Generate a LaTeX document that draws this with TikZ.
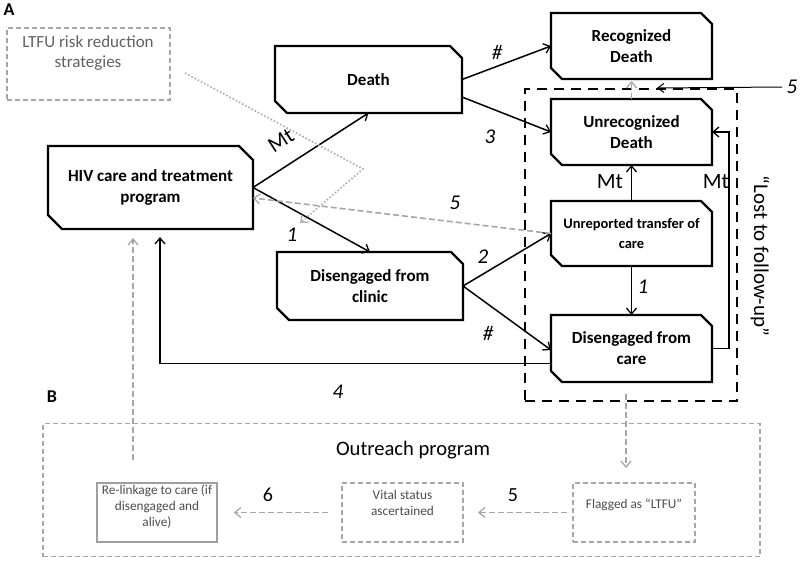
\documentclass[tikz,border=0pt]{standalone}
\usepackage{fontspec}
\setmainfont{Carlito}
\usetikzlibrary{arrows.meta,calc}
\tikzset{
  bx/.style={draw=none, rectangle, inner sep=0pt, outer sep=0pt, align=center},
  boxline/.style={line width=2.2pt, line join=miter},
  bfont/.style={font=\fontsize{17}{21}\selectfont\bfseries},
  sfont/.style={font=\fontsize{14.5}{20}\selectfont\bfseries},
  arr/.style={line width=1.5pt, -{Straight Barb[length=6pt,width=10pt,line width=1.3pt]}},
  garr/.style={line width=1.6pt, draw=gray!70, dash pattern=on 6pt off 3pt, -{Straight Barb[length=6pt,width=10pt,line width=1.3pt]}},
  gdot/.style={line width=1.6pt, draw=gray!65, dash pattern=on 1.6pt off 2pt},
  gbox/.style={draw=gray!70, line width=1.6pt, dash pattern=on 5pt off 3pt, rectangle, inner sep=0pt, outer sep=0pt, align=center},
  lab/.style={font=\fontsize{21}{24}\selectfont\itshape},
  mt/.style={font=\fontsize{22}{24}\selectfont},
  btxt/.style={text=black!70, font=\fontsize{13.3}{16}\selectfont}
}
\newcommand\chbox[2]{%
  \draw[boxline] (#1.north west) -- ([xshift=-#2]#1.north east) -- ([yshift=-#2]#1.north east)
   -- (#1.south east) -- ([xshift=#2]#1.south west) -- ([yshift=#2]#1.south west) -- cycle;}
\begin{document}
\begin{tikzpicture}[x=1pt,y=-1pt]
\useasboundingbox (0,0) rectangle (800,560);
% panel labels
\node[font=\fontsize{18}{20}\selectfont\bfseries] (la) at (9,10) {A};
\node[font=\fontsize{18}{20}\selectfont\bfseries] (lb) at (52,397) {B};
% LTFU risk box
\node[gbox, minimum width=163pt, minimum height=72pt] (risk) at (88.5,64) {};
\node[text=black!62, font=\fontsize{17}{20}\selectfont, align=center] (risktxt) at (88,53) {LTFU risk reduction\\strategies};
% main boxes
\node[bx, bfont, minimum width=205pt, minimum height=83pt] (hiv) at (150.5,187.5) {HIV care and treatment\\program};
\node[bx, bfont, minimum width=187pt, minimum height=67pt] (death) at (368.5,79.5) {Death};
\node[bx, bfont, minimum width=186pt, minimum height=68pt] (disc) at (370,286) {Disengaged from\\clinic};
\node[bx, bfont, minimum width=161pt, minimum height=66pt] (rec) at (631.5,46) {Recognized\\Death};
\node[bx, bfont, minimum width=161pt, minimum height=66pt] (unrec) at (631.5,132) {Unrecognized\\Death};
\node[bx, sfont, minimum width=161pt, minimum height=65pt] (unrep) at (631.5,233.5) {Unreported transfer of\\care};
\node[bx, bfont, minimum width=161pt, minimum height=67pt] (dcare) at (631.5,348.5) {Disengaged from\\care};
\chbox{hiv}{14pt}
\chbox{death}{12pt}
\chbox{disc}{12pt}
\chbox{rec}{11pt}
\chbox{unrec}{11pt}
\chbox{unrep}{11pt}
\chbox{dcare}{11pt}
% lost to follow-up box
\node[draw, line width=2.2pt, dash pattern=on 10pt off 7pt, rectangle, minimum width=212pt, minimum height=312pt, inner sep=0pt] (ltfu) at (631,245) {};
\node[rotate=-90, font=\fontsize{21}{24}\selectfont] (ltfutxt) at (760,256) {“Lost to follow-up”};
% arrows
\draw[arr] (hiv.east) -- (death.south);
\node[mt, rotate=33] (lmt0) at (281,141) {Mt};
\draw[arr] (hiv.east) -- (disc.north);
\node[lab] (l1a) at (292,235) {1};
\draw[arr] (death.east) -- (rec.west);
\node[lab] (lh1) at (497,52) {\#};
\draw[arr] ([yshift=-17.5pt]death.east) -- (unrec.west);
\node[lab] (l3) at (490,137) {3};
\draw[arr] (disc.east) -- (unrep.west);
\node[lab] (l2) at (483,257) {2};
\draw[arr] (disc.east) -- ([yshift=-1.5pt]dcare.west);
\node[lab] (lh2) at (488,333) {\#};
\draw[arr] (unrep.north) -- (unrec.south);
\node[mt] (lmt1) at (610,182) {Mt};
\draw[arr] (unrep.south) -- (dcare.north);
\node[lab] (l1b) at (643,287) {1};
\draw[arr] (dcare.east) -- ++(17,0) |- (unrec.east);
\node[mt] (lmt2) at (716,182) {Mt};
\draw[arr, shorten >=8pt] ([yshift=-15pt]dcare.west) -| ([xshift=9.5pt]hiv.south);
\node[lab] (l4) at (338,392) {4};
% gray dashed 5 back to HIV
\draw[garr] (unrep.west) -- ([yshift=-10.5pt]hiv.east);
\node[lab] (l5a) at (455,203) {5};
% dotted strategy arrow
\coordinate (d0) at (185,73);
\coordinate (d1) at (363,169);
\coordinate (d2) at (300,223);
\draw[gdot, -{Straight Barb[length=6pt,width=10pt,line width=1.3pt]}] (d0) -- (d1) -- (d2);
% top right 5
\coordinate (t5) at (782,87);
\draw[line width=1pt, -{Straight Barb[length=6pt,width=9pt,line width=1pt]}] (t5) -- (657,88);
\node[lab] (l5t) at (792,87) {5};
\draw[garr, shorten >=2pt] (unrec.north) -- (rec.south);
% panel B
\node[gbox, minimum width=717pt, minimum height=133pt] (outreach) at (401.5,490) {};
\node[font=\fontsize{20.6}{24}\selectfont] (outtxt) at (413,450) {Outreach program};
\node[draw=gray!75, line width=1.6pt, rectangle, minimum width=120pt, minimum height=59pt, inner sep=0pt] (relink) at (157,512.5) {};
\node[btxt, align=center] (relinktxt) at (157,507) {Re-linkage to care (if\\disengaged and\\alive)};
\node[gbox, minimum width=121pt, minimum height=59pt] (vital) at (402.5,512.5) {};
\node[btxt, align=center] (vitaltxt) at (402.5,503) {Vital status\\ascertained};
\node[gbox, minimum width=122pt, minimum height=59pt] (flag) at (634,512.5) {};
\node[btxt] (flagtxt) at (634,505) {Flagged as “LTFU”};
\draw[garr, shorten <=14pt, shorten >=16pt] (vital.west) -- (relink.east);
\node[font=\fontsize{20}{22}\selectfont] (l6) at (268,495) {6};
\draw[garr, shorten <=6pt, shorten >=15pt] (flag.west) -- (vital.east);
\node[font=\fontsize{20}{22}\selectfont] (l5b) at (513,495) {5};
\draw[garr, shorten >=15pt] ([xshift=-5pt,yshift=8pt]ltfu.south) -- ([xshift=-8pt]flag.north);
\coordinate (up0) at (133,460);
\draw[garr, shorten >=9pt] (up0) -- ([xshift=-17.5pt]hiv.south);
\end{tikzpicture}
\end{document}
